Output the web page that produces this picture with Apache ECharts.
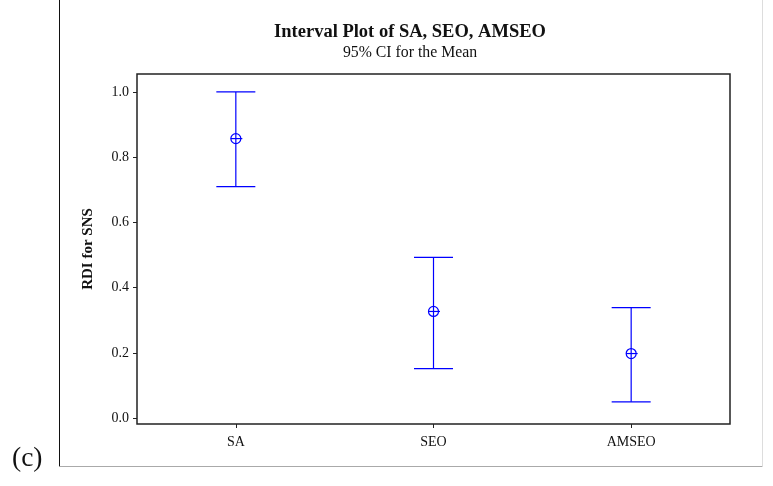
<!DOCTYPE html>
<html>
<head>
<meta charset="utf-8">
<script src="https://cdn.jsdelivr.net/npm/echarts@6/dist/echarts.min.js"></script>
<style>
html,body{margin:0;padding:0;background:#fff;}
#chart{width:773px;height:486px;}
</style>
</head>
<body>
<div id="chart"></div>
<script>
const categories = ['SA', 'SEO', 'AMSEO'];
const means = [0.857, 0.327, 0.198];
const lowers = [0.710, 0.152, 0.050];
const uppers = [1.000, 0.493, 0.339];
const yTicks = [0.0, 0.2, 0.4, 0.6, 0.8, 1.0];

const chart = echarts.init(document.getElementById('chart'));
const FONT = '"Liberation Serif", "Times New Roman", serif';
const BLUE = '#0000FF';

const errData = categories.map((c, i) => [i, lowers[i], uppers[i], means[i]]);

const option = {
  backgroundColor: '#fff',
  animation: false,
  grid: {
    left: 137, top: 74, right: 43, bottom: 62,
    show: true, borderColor: '#222', borderWidth: 1.5, backgroundColor: 'transparent'
  },
  xAxis: {
    type: 'category',
    data: categories,
    axisLine: { show: false, onZero: false },
    axisTick: { show: true, alignWithLabel: true, length: 4, inside: false, lineStyle: { color: '#222' } },
    axisLabel: { fontFamily: FONT, fontSize: 14, color: '#111', margin: 11 },
    splitLine: { show: false }
  },
  yAxis: {
    type: 'value',
    min: -0.018,
    max: 1.055,
    name: 'RDI for SNS',
    nameLocation: 'middle',
    nameRotate: 90,
    nameGap: 41,
    nameTextStyle: { fontFamily: FONT, fontSize: 15, fontWeight: 'bold', color: '#111' },
    axisLine: { show: false, onZero: false },
    axisTick: { show: true, length: 4, inside: false, customValues: yTicks, lineStyle: { color: '#222' } },
    axisLabel: {
      fontFamily: FONT, fontSize: 14, color: '#111', margin: 8,
      customValues: yTicks,
      formatter: v => v.toFixed(1)
    },
    splitLine: { show: false }
  },
  series: [{
    type: 'custom',
    data: errData,
    encode: { x: 0, y: [1, 2, 3] },
    renderItem: function (params, api) {
      const x = api.value(0);
      const lo = api.coord([x, api.value(1)]);
      const hi = api.coord([x, api.value(2)]);
      const m = api.coord([x, api.value(3)]);
      const hw = 19.5;
      const r = 5;
      const st = { stroke: BLUE, lineWidth: 1.2, fill: null };
      return {
        type: 'group',
        children: [
          { type: 'line', shape: { x1: hi[0], y1: hi[1], x2: lo[0], y2: lo[1] }, style: st },
          { type: 'line', shape: { x1: hi[0] - hw, y1: hi[1], x2: hi[0] + hw, y2: hi[1] }, style: st },
          { type: 'line', shape: { x1: lo[0] - hw, y1: lo[1], x2: lo[0] + hw, y2: lo[1] }, style: st },
          { type: 'circle', shape: { cx: m[0], cy: m[1], r: r }, style: { stroke: BLUE, lineWidth: 1.2, fill: 'rgba(0,0,0,0)' } },
          { type: 'line', shape: { x1: m[0] - r, y1: m[1], x2: m[0] + r + 1.5, y2: m[1] }, style: st }
        ]
      };
    }
  }],
  graphic: [
    { type: 'line', shape: { x1: 59.5, y1: 0, x2: 59.5, y2: 466.5 }, style: { stroke: '#111', lineWidth: 1 } },
    { type: 'line', shape: { x1: 59.5, y1: 466.5, x2: 762.5, y2: 466.5 }, style: { stroke: '#aaa', lineWidth: 1 } },
    { type: 'line', shape: { x1: 762.5, y1: 0, x2: 762.5, y2: 466.5 }, style: { stroke: '#ddd', lineWidth: 1 } },
    { type: 'text', x: 410, y: 32, style: { text: 'Interval Plot of SA, SEO, AMSEO', font: 'bold 18.5px ' + FONT, fill: '#111', textAlign: 'center', textVerticalAlign: 'middle' } },
    { type: 'text', x: 410, y: 53, style: { text: '95% CI for the Mean', font: '15.8px ' + FONT, fill: '#111', textAlign: 'center', textVerticalAlign: 'middle' } },
    { type: 'text', x: 12, y: 459, style: { text: '(c)', font: '27.5px ' + FONT, fill: '#111', textAlign: 'left', textVerticalAlign: 'middle' } }
  ]
};
chart.setOption(option);
</script>
</body>
</html>
